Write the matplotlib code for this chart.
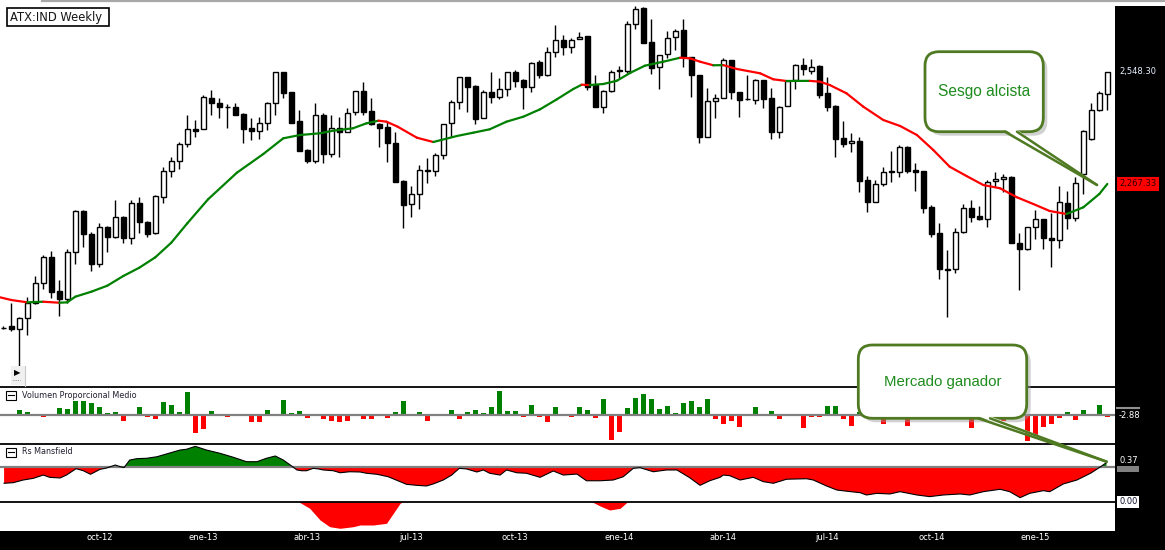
import numpy as np
import matplotlib.pyplot as plt
from matplotlib.patches import Rectangle, FancyBboxPatch, Polygon
from matplotlib.transforms import blended_transform_factory

# weekly candles (ATX), index 0 = first visible week
opens = [1907.2, 1911.0, 1902.7, 1931.0, 1967.9, 2018.1, 2083.3, 1999.5, 1978.0, 2095.9,
         2198.7, 2141.0, 2065.8, 2158.6, 2133.5, 2183.7, 2131.0, 2218.8, 2171.1, 2143.6,
         2235.4, 2299.1, 2324.2, 2367.6, 2404.5, 2404.5, 2482.3, 2469.7, 2459.7, 2459.7,
         2442.9, 2407.7, 2401.0, 2421.0, 2469.7, 2548.3, 2498.1, 2425.3, 2352.5, 2325.7,
         2439.6, 2342.5, 2407.7, 2398.5, 2447.1, 2500.6, 2449.6, 2417.0, 2411.0, 2369.4,
         2274.8, 2216.3, 2241.4, 2301.6, 2299.1, 2339.3, 2419.5, 2472.2, 2535.0, 2513.1,
         2432.1, 2498.1, 2486.3, 2504.8, 2547.5, 2528.2, 2511.4, 2573.3, 2540.0, 2597.7,
         2627.8, 2610.2, 2630.3, 2638.6, 2515.6, 2459.7, 2500.6, 2552.5, 2550.8, 2667.9,
         2708.1, 2622.8, 2560.0, 2592.7, 2635.3, 2653.6, 2585.1, 2540.0, 2385.9, 2474.7,
         2482.3, 2577.6, 2497.3, 2479.8, 2477.2, 2527.4, 2482.3, 2398.5, 2463.7, 2528.2,
         2565.1, 2551.5, 2562.6, 2494.8, 2462.9, 2381.9, 2369.4, 2375.1, 2277.3, 2222.8,
         2266.5, 2298.1, 2298.1, 2359.3, 2302.4, 2299.9, 2208.8, 2143.6, 2053.2, 2053.2,
         2147.6, 2206.3, 2187.0, 2178.7, 2274.0, 2279.0, 2284.1, 2118.5, 2103.4, 2158.6,
         2178.7, 2132.5, 2126.7, 2218.8, 2181.2, 2292.3, 2379.4, 2452.9, 2492.3]
highs = [1911.0, 1969.4, 1934.3, 1984.5, 2036.4, 2088.4, 2099.9, 2026.4, 2103.4, 2202.0,
         2200.8, 2146.8, 2168.6, 2161.9, 2227.1, 2187.0, 2227.1, 2235.4, 2174.4, 2239.6,
         2310.6, 2335.7, 2372.6, 2440.4, 2427.8, 2490.5, 2503.1, 2482.3, 2468.0, 2469.7,
         2445.4, 2432.1, 2434.6, 2473.7, 2549.0, 2549.0, 2499.0, 2452.9, 2355.0, 2471.2,
         2444.6, 2440.4, 2436.1, 2457.2, 2501.0, 2523.9, 2482.3, 2420.3, 2423.6, 2398.5,
         2277.3, 2262.2, 2314.9, 2331.7, 2344.3, 2419.0, 2478.0, 2535.7, 2536.0, 2515.6,
         2503.1, 2549.0, 2532.4, 2548.3, 2553.3, 2530.7, 2574.1, 2578.4, 2611.7, 2666.2,
         2641.1, 2632.8, 2649.4, 2639.0, 2540.7, 2503.1, 2553.3, 2563.3, 2676.2, 2713.8,
         2711.3, 2681.2, 2590.9, 2651.1, 2656.1, 2681.2, 2585.9, 2540.7, 2507.4, 2493.1,
         2582.6, 2578.4, 2498.1, 2540.7, 2530.7, 2528.2, 2507.4, 2462.9, 2528.2, 2568.3,
         2582.6, 2580.1, 2565.8, 2536.5, 2465.4, 2425.3, 2394.5, 2385.9, 2287.3, 2277.3,
         2310.6, 2350.8, 2365.1, 2362.6, 2320.7, 2301.1, 2214.5, 2170.1, 2101.6, 2156.1,
         2217.1, 2227.1, 2212.0, 2277.3, 2298.1, 2292.3, 2286.1, 2143.6, 2159.3, 2202.0,
         2179.4, 2193.7, 2262.2, 2250.4, 2285.6, 2402.7, 2469.7, 2501.3, 2548.3]
lows = [1903.4, 1899.2, 1811.4, 1889.1, 1966.2, 2003.0, 1980.5, 1936.8, 1967.9, 2065.8,
        2109.9, 2048.2, 2059.8, 2097.4, 2131.8, 2118.5, 2116.0, 2143.6, 2135.0, 2141.8,
        2220.3, 2285.6, 2304.1, 2359.3, 2385.9, 2404.0, 2440.4, 2432.1, 2407.0, 2440.4,
        2369.4, 2377.6, 2379.4, 2402.7, 2440.4, 2482.3, 2420.3, 2350.0, 2319.2, 2320.7,
        2319.2, 2335.7, 2335.7, 2397.7, 2440.4, 2440.4, 2415.3, 2360.8, 2323.2, 2272.3,
        2156.8, 2185.2, 2203.8, 2269.0, 2288.1, 2329.2, 2385.9, 2454.7, 2448.6, 2417.8,
        2431.6, 2469.7, 2479.8, 2488.0, 2509.9, 2454.7, 2498.8, 2532.4, 2538.2, 2586.6,
        2590.9, 2595.2, 2629.8, 2503.1, 2460.4, 2444.6, 2498.8, 2532.4, 2545.0, 2655.4,
        2619.8, 2543.2, 2504.8, 2582.6, 2603.4, 2561.5, 2484.8, 2370.9, 2385.2, 2432.1,
        2481.8, 2479.8, 2436.1, 2478.0, 2467.2, 2458.7, 2379.4, 2381.9, 2462.9, 2504.8,
        2540.7, 2543.2, 2482.3, 2451.2, 2334.2, 2360.8, 2348.3, 2247.9, 2197.7, 2222.1,
        2263.0, 2272.3, 2284.1, 2295.6, 2250.4, 2195.2, 2135.0, 2028.1, 1934.3, 2043.2,
        2145.1, 2172.7, 2176.9, 2160.1, 2260.5, 2247.9, 2118.0, 2001.3, 2102.9, 2128.5,
        2103.4, 2059.8, 2105.9, 2153.6, 2174.4, 2242.2, 2377.6, 2451.2, 2452.9]
closes = [1905.9, 1902.7, 1931.0, 1967.9, 2018.1, 2083.3, 1997.0, 1978.0, 2095.9, 2198.7,
          2141.0, 2065.8, 2158.6, 2133.5, 2183.7, 2131.0, 2218.8, 2171.1, 2141.0, 2237.1,
          2299.1, 2324.2, 2367.6, 2404.5, 2401.0, 2484.8, 2469.7, 2459.7, 2459.2, 2441.1,
          2406.0, 2401.0, 2421.0, 2469.7, 2548.3, 2496.3, 2421.0, 2350.8, 2325.7, 2439.6,
          2342.5, 2407.7, 2398.5, 2444.6, 2500.6, 2447.1, 2417.8, 2408.5, 2369.4, 2273.0,
          2215.3, 2241.4, 2301.6, 2299.1, 2339.3, 2417.0, 2472.2, 2535.0, 2509.9, 2429.6,
          2498.1, 2486.3, 2504.8, 2547.5, 2526.4, 2511.4, 2570.1, 2540.0, 2597.7, 2627.8,
          2610.2, 2627.8, 2636.8, 2509.9, 2461.2, 2500.6, 2547.5, 2551.5, 2667.9, 2705.6,
          2620.3, 2557.5, 2590.2, 2632.8, 2651.9, 2585.1, 2540.0, 2385.9, 2474.7, 2482.3,
          2577.6, 2497.3, 2477.2, 2479.3, 2527.4, 2481.3, 2398.5, 2461.2, 2525.7, 2565.1,
          2555.0, 2561.5, 2491.3, 2461.2, 2379.4, 2367.6, 2374.4, 2275.5, 2222.8, 2266.5,
          2296.6, 2299.9, 2359.3, 2300.6, 2298.1, 2206.3, 2141.0, 2053.2, 2052.7, 2146.1,
          2206.3, 2185.2, 2178.7, 2273.0, 2279.0, 2284.1, 2118.5, 2103.4, 2158.6, 2180.2,
          2131.0, 2126.7, 2221.3, 2181.2, 2271.0, 2401.0, 2452.9, 2494.8, 2548.3]

# moving average read at sampled weeks
ma_idx = [-0.41, 1, 3, 5, 7, 8, 9, 11, 13, 15,
          17, 19, 21, 23, 25.6, 29.2, 32.5, 35, 37.1, 39.6,
          41.2, 43.7, 45.4, 46.9, 47.9, 49.3, 51.7, 53.75, 56.7, 58.75,
          60.8, 62.9, 65, 67.1, 69.2, 71.25, 72.3, 73.3, 75, 76.7,
          78.4, 80.2, 82.5, 84.6, 85.8, 87.1, 88.75, 90, 91.7, 94.6,
          96.25, 97.9, 100.8, 102.1, 103.3, 105.4, 107.5, 110, 112.1, 114.2,
          116.25, 118.3, 120.4, 122.5, 124.6, 126.7, 128.75, 130.8, 132.9, 135,
          137, 138]
ma_val = [1983.0, 1976.2, 1970.4, 1971.9, 1969.4, 1970.4, 1984.5, 1997.0, 2012.1, 2036.4,
          2057.2, 2083.3, 2120.0, 2168.6, 2228.9, 2295.6, 2342.5, 2381.9, 2390.2, 2394.5,
          2401.0, 2407.0, 2419.5, 2426.1, 2423.6, 2411.0, 2383.4, 2372.6, 2387.7, 2396.0,
          2404.5, 2423.6, 2436.1, 2454.7, 2479.8, 2505.6, 2516.4, 2515.5, 2518.1, 2526.4,
          2546.5, 2564.1, 2574.1, 2584.1, 2582.6, 2574.1, 2565.1, 2565.5, 2555.8, 2545.0,
          2529.9, 2525.7, 2526.0, 2523.9, 2515.6, 2494.8, 2461.2, 2427.8, 2412.8, 2390.2,
          2352.5, 2310.6, 2287.3, 2264.7, 2256.5, 2233.9, 2217.1, 2199.5, 2192.0, 2208.8,
          2242.2, 2267.33]

# Volumen Proporcional Medio
volume = [0, 1.7, 5, 3, 0, -1.7, 1.3, 7, 6, 14,
          14, 12, 8, 2, 3, -5.7, 0, 8, -1.7, -3.7,
          13, 10, 3, 23, -17.7, -13.7, 4, 1.3, -1.7, 0,
          0, -6.7, -6.7, 5, 1.3, 15, 2, 4, -2.7, 0,
          -3.7, -5.7, -6.7, -5.7, 0, -3.7, -3.7, 0, -2.7, 3,
          14, 0, 3, -5.7, 0, 0, 5, -3.7, 3, 5,
          2, 8, 24, 4, 4, -1.7, 10, -1.7, -6.7, 8,
          1.3, -1.7, 8, 5, -2.7, 16, -24.7, -16.7, 7, 17,
          21, 16, 6, 9, 2, 12, 14, 8, 16, -3.7,
          -8.7, -5.7, -11.7, 0, 8, 0, 4, -3.7, 0, 0,
          -12.7, -1.7, -1.7, 9, 9, -3.7, -10.5, 3, 2, -3.3,
          -8.3, 4, 6, -11, -1, 3, 0, 5, 8, 2,
          4, -12.7, 3, 6, 2, -6, -3.7, -2, -25.3, -19.7,
          -12, -8.7, -3, 3.7, -5, 5, 0, 10.7, -1.3]

# Rs Mansfield
rs_idx = [0.1, 1.25, 2.5, 3.75, 5, 5.8, 7.1, 7.9, 9.1, 10,
          10.9, 12.1, 12.9, 14, 14.6, 15.1, 15.8, 16.7, 17.9, 19.2,
          20.4, 22.1, 22.9, 24, 25.4, 27.1, 28.75, 30.4, 31.7, 32.9,
          34, 35, 36.05, 36.7, 37.3, 37.9, 38.75, 39.4, 40, 41.25,
          42.1, 43.3, 44.6, 45.4, 46.7, 48.1, 49.6, 50.4, 51.7, 52.9,
          53.75, 55, 56.05, 57, 57.9, 59.2, 60, 60.8, 62.1, 62.9,
          64.2, 65.4, 67.1, 68.75, 70, 71.7, 72.9, 74.6, 76.25, 77.5,
          78.75, 79.6, 81.25, 82.9, 84.2, 85.8, 87.1, 88.3, 89.6, 90,
          90.8, 92.1, 93.75, 95, 96.25, 97.9, 100.4, 101.25, 102.9, 104.2,
          105.8, 107.1, 107.9, 109.2, 110.8, 112.1, 114.2, 115.8, 117.5, 119.6,
          120.8, 122.5, 124.6, 125.8, 127.1, 128.3, 130, 130.8, 132.5, 134.2,
          135.9, 137.1, 137.9]
rs_val = [-1.26, -1.21, -1.00, -0.87, -0.61, -0.79, -0.84, -0.61, -0.11, -0.27,
          -0.55, -0.16, -0.06, 0.18, 0.05, -0.02, 0.57, 0.68, 0.71, 0.83,
          1.05, 1.36, 1.42, 1.65, 1.36, 1.10, 0.79, 0.44, 0.44, 0.71,
          0.89, 0.57, 0.10, -0.21, -0.27, -0.27, -0.08, -0.13, -0.21, -0.27,
          -0.43, -0.35, -0.37, -0.47, -0.55, -0.74, -1.13, -1.34, -1.42, -1.47,
          -1.31, -1.00, -0.61, -0.08, -0.13, -0.37, -0.21, -0.47, -0.61, -0.21,
          -0.43, -0.47, -0.79, -0.29, -0.61, -0.53, -1.06, -1.06, -1.00, -0.74,
          -0.08, -0.03, -0.35, -0.21, -0.21, -0.82, -1.42, -1.06, -0.79, -0.61,
          -0.66, -1.00, -0.79, -1.13, -1.26, -0.94, -0.90, -1.00, -1.47, -1.79,
          -1.91, -2.00, -2.18, -2.05, -2.10, -1.92, -2.18, -2.31, -2.18, -2.10,
          -2.18, -1.92, -1.73, -1.92, -2.39, -2.05, -1.84, -1.92, -1.31, -1.00,
          -0.47, 0.02, 0.37]

# lower sub-panel dips
dip1_idx = [36.9, 38.3, 39.6, 40.8, 42.1, 43.75, 44.6, 46.25, 47.9, 48.75, 49.6, 49.95]
dip1_val = [0, -0.66, -1.83, -2.50, -2.66, -2.50, -2.33, -2.33, -2.16, -1.16, -0.16, 0]
dip2_idx = [73.55, 74.6, 75.8, 77.1, 77.9, 78.1]
dip2_val = [0, -0.43, -0.83, -0.66, -0.10, 0]

tick_idx = [12, 25, 38, 51, 64, 77, 90, 103, 116, 129]
tick_labels = ['oct-12', 'ene-13', 'abr-13', 'jul-13', 'oct-13',
               'ene-14', 'abr-14', 'jul-14', 'oct-14', 'ene-15']

W, H = 1165, 550
PLOT_R = 1115
GREEN = '#008000'
RED = '#ff0000'
OLIVE = '#4f7a22'

plt.rcParams['font.family'] = 'DejaVu Sans'
fig = plt.figure(figsize=(W / 100, H / 100), dpi=100, facecolor='black')


def panel(top, bottom):
    a = fig.add_axes([0, 1 - bottom / H, PLOT_R / W, (bottom - top) / H])
    a.set_facecolor('white')
    a.set_xlim(-0.41, 138.96)
    a.set_xticks([])
    a.set_yticks([])
    for s in a.spines.values():
        s.set_visible(False)
    return a


ax = panel(0, 387.3)
ax_vol = panel(387.3, 444)
ax_rs = panel(444, 501.7)
ax_rs2 = panel(501.7, 530.7)
for a in (ax_vol, ax_rs, ax_rs2):
    a.spines['top'].set_visible(True)
    a.spines['top'].set_linewidth(1.3)

# candles
o, h, l, c = map(np.array, (opens, highs, lows, closes))
x = np.arange(len(o))
up = c >= o
ax.vlines(x, l, h, color='black', lw=1, zorder=2)
ax.bar(x, np.maximum(np.abs(c - o), 1.0), bottom=np.minimum(o, c), width=0.66,
       color=np.where(up, 'white', 'black'), edgecolor='black', linewidth=1, zorder=3)

# moving average, green when rising, red when falling
for i in range(len(ma_idx) - 1):
    col = GREEN if ma_val[i + 1] >= ma_val[i] else RED
    ax.plot(ma_idx[i:i + 2], ma_val[i:i + 2], color=col, lw=1.6,
            solid_capstyle='round', zorder=4)
ax.set_ylim(1757.2, 2728.9)

# volume
vol = np.array(volume)
ax_vol.bar(x, vol, width=0.66, color=np.where(vol >= 0, GREEN, RED), zorder=2)
ax_vol.axhline(0, color='#808080', lw=1.6, zorder=3)
ax_vol.set_ylim(-28.7, 28)

# Rs Mansfield
rx, rv = np.array(rs_idx), np.array(rs_val)
ax_rs.fill_between(rx, rv, 0, where=rv >= 0, interpolate=True, color=GREEN, lw=0)
ax_rs.fill_between(rx, rv, 0, where=rv <= 0, interpolate=True, color=RED, lw=0)
ax_rs.plot(rx, rv, color='black', lw=0.8, zorder=3)
ax_rs.axhline(0, color='#808080', lw=1.6, zorder=2)
ax_rs.set_ylim(-2.709, 1.835)

for dx, dv in ((dip1_idx, dip1_val), (dip2_idx, dip2_val)):
    ax_rs2.fill_between(dx, dv, 0, color=RED, lw=0)
ax_rs2.set_ylim(-2.9, 0)
ax_rs2.set_xticks(tick_idx)
ax_rs2.set_xticklabels(tick_labels)
ax_rs2.tick_params(axis='x', length=0, pad=2, labelsize=6, labelcolor='white')

# right-hand value labels
xr = 1119 / PLOT_R
t_main = blended_transform_factory(ax.transAxes, ax.transData)
ax.text(xr, closes[-1], f'{closes[-1]:,.2f}', transform=t_main, color='#e8f0ff',
        fontsize=6, va='center', ha='left')
ax.text(xr, ma_val[-1], f'{ma_val[-1]:,.2f}', transform=t_main, color='#2a0000',
        fontsize=6, va='center', ha='left',
        bbox=dict(facecolor=RED, edgecolor='none', pad=1.6))
t_vol = blended_transform_factory(ax_vol.transAxes, ax_vol.transData)
ax_vol.text(xr, 0, '-2.88', transform=t_vol, color='white', fontsize=6,
            va='center', ha='left')
t_rs = blended_transform_factory(ax_rs.transAxes, ax_rs.transData)
ax_rs.text(xr, rs_val[-1] + 0.2, f'{rs_val[-1]:.2f}', transform=t_rs, color='white',
           fontsize=6, va='center', ha='left')
t_rs2 = blended_transform_factory(ax_rs2.transAxes, ax_rs2.transData)
ax_rs2.text(xr, 0, '0.00', transform=t_rs2, color='#101030', fontsize=6,
            va='center', ha='left',
            bbox=dict(facecolor='white', edgecolor='none', pad=1.2))

# overlay in pixel space for labels and callouts
ov = fig.add_axes([0, 0, 1, 1])
ov.set_xlim(0, W)
ov.set_ylim(H, 0)
ov.axis('off')
ov.add_patch(Rectangle((PLOT_R, 0), W - PLOT_R, 6, fc='white', ec='none'))
ov.plot([42, W], [0.8, 0.8], color='#a8a8a8', lw=1.6)
ov.plot([1117, 1139], [408.3, 408.3], color='#909090', lw=1.5)
ov.add_patch(Rectangle((1117, 466), 22, 6, fc='#808080', ec='none'))

ov.add_patch(Rectangle((6.7, 8.3), 102.6, 17.7, fc='white', ec='black', lw=1.2))
ov.text(10.5, 17.5, 'ATX:IND Weekly', fontsize=8.3, va='center', ha='left',
        color='#151515')

for ty, title in ((395, 'Volumen Proporcional Medio'), (452, 'Rs Mansfield')):
    ov.add_patch(Rectangle((6, ty - 4.5), 10, 9, fc='white', ec='black', lw=0.8))
    ov.plot([8, 14], [ty, ty], color='black', lw=0.8)
    ov.text(22, ty, title, fontsize=5.8, va='center', ha='left', color='#202030')

ov.add_patch(Rectangle((11, 366), 14, 19, fc='#f0f0f0', ec='none'))
ov.plot([25, 25], [366, 386], color='#c8c8c8', lw=0.8)
ov.text(17, 373, '\u25b6', fontsize=6, va='center', ha='center', color='black')
ov.plot([13, 20], [380, 380], color='#606060', lw=0.6, ls=':')


def callout(x0, y0, x1, y1, text, base, tip, size):
    ov.add_patch(FancyBboxPatch((x0 + 4, y0 + 4), x1 - x0, y1 - y0,
                                boxstyle='round,pad=0,rounding_size=14',
                                fc='#9a9a9a', ec='none', alpha=0.45))
    ov.add_patch(FancyBboxPatch((x0, y0), x1 - x0, y1 - y0,
                                boxstyle='round,pad=0,rounding_size=14',
                                fc='white', ec=OLIVE, lw=2))
    ov.add_patch(Polygon([(base[0], y1 - 2), tip, (base[1], y1 - 2)],
                         closed=True, fc='white', ec='none'))
    for bx in base:
        ov.plot([bx, tip[0]], [y1, tip[1]], color=OLIVE, lw=1.8,
                solid_capstyle='round')
    ov.text((x0 + x1) / 2, (y0 + y1) / 2, text, fontsize=size, ha='center',
            va='center', color='#1e8c1e', family='Liberation Sans')


callout(925, 51.7, 1043.3, 131.7, 'Sesgo alcista', (1005, 1017), (1097, 185), 11.2)
callout(858.3, 345, 1026.7, 418.3, 'Mercado ganador', (978, 990), (1106.7, 461.7), 10.8)

fig.savefig('out.png', dpi=100, facecolor='black')
